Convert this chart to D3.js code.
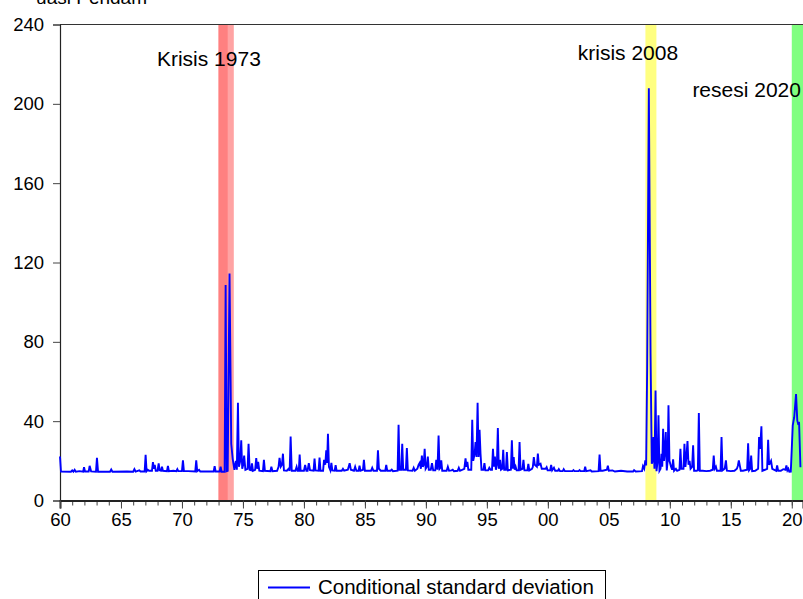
<!DOCTYPE html>
<html>
<head>
<meta charset="utf-8">
<script src="https://cdn.jsdelivr.net/npm/d3@7"></script>
<style>
  body { margin: 0; background: #fff; }
  svg { display: block; font-family: "Liberation Sans", Arial, sans-serif; }
</style>
</head>
<body>
<svg id="chart" width="803" height="599"></svg>
<script>
// conditional standard deviation (decimal year, value)
var s1960s = [[1960.00,22.2],[1960.08,14.6],[1960.9,14.5],[1961.0,15.2],[1961.1,14.5],[1961.2,15.5],[1961.3,14.5],[1961.6,14.8],[1961.9,14.5],[1961.97,16.8],[1962.05,14.6],[1962.35,14.6],[1962.43,17.5],[1962.55,14.7],[1962.95,14.5],[1963.03,21.5],[1963.12,14.5],[1964.1,14.5],[1964.2,15.6],[1964.3,14.5],[1965.5,14.6],[1966.0,14.5],[1966.1,15.8],[1966.2,14.6],[1966.5,15.2],[1966.6,14.6],[1966.94,14.6],[1967.02,23.0],[1967.1,14.8],[1967.2,15.5],[1967.3,15],[1967.54,15],[1967.62,19.4],[1967.7,16],[1967.77,18],[1967.85,15],[1968.0,15],[1968.09,18.7],[1968.17,15.2],[1968.28,15],[1968.36,17],[1968.44,15],[1968.77,14.8],[1968.85,17.4],[1968.93,14.8],[1969.3,15],[1969.54,14.8],[1969.62,15.8],[1969.7,14.8]];
var s1970s = [[1970.0,14.8],[1970.08,20.2],[1970.16,14.8],[1970.5,14.8],[1971.09,14.6],[1971.17,20.2],[1971.25,14.8],[1971.4,15.5],[1971.5,14.6],[1972.6,14.6],[1972.68,17.3],[1972.76,14.6],[1973.09,14.6],[1973.17,17],[1973.25,14.5],[1973.5,14.5],[1973.58,108.6],[1973.67,14.8],[1973.75,15],[1973.9,114.5],[1974.04,28.6],[1974.16,21],[1974.3,15.5],[1974.42,20],[1974.5,15.5],[1974.59,49.3],[1974.67,17],[1974.78,20],[1974.86,30.3],[1974.94,16],[1975.02,18],[1975.1,22.7],[1975.2,15.5],[1975.38,16],[1975.46,28.6],[1975.55,15.5],[1975.66,15.3],[1975.74,18.7],[1975.82,15],[1976.0,15.5],[1976.09,21.4],[1976.17,16],[1976.25,19.5],[1976.34,15],[1976.64,14.8],[1976.72,20.5],[1976.8,15],[1977.25,14.8],[1977.33,17],[1977.42,14.8],[1977.8,15],[1977.92,17],[1978.0,21.5],[1978.1,17],[1978.2,18],[1978.28,23.6],[1978.36,15.2],[1978.6,15],[1978.75,16],[1978.83,15],[1978.91,32.3],[1979.0,15],[1979.3,15],[1979.4,17],[1979.48,15],[1979.58,15],[1979.65,23.2],[1979.73,15]];
var s1980s = [[1980.0,15],[1980.1,17.9],[1980.2,15],[1980.3,15],[1980.4,18.8],[1980.5,15.3],[1980.79,15],[1980.87,21.2],[1980.95,15.2],[1981.2,15],[1981.28,21.6],[1981.36,15],[1981.57,15],[1981.65,20.5],[1981.75,18],[1981.83,25.3],[1981.9,19],[1981.97,33.7],[1982.05,17],[1982.17,15.2],[1982.25,19],[1982.33,15.2],[1982.52,15],[1982.6,17.8],[1982.68,15],[1983.1,15],[1983.2,16],[1983.3,15],[1983.6,15.5],[1983.75,18.8],[1983.85,15.5],[1984.1,15],[1984.2,17],[1984.3,15],[1984.48,15],[1984.56,17.5],[1984.64,15],[1984.84,15.5],[1984.92,20.5],[1985.0,15],[1985.5,15],[1985.6,16.5],[1985.7,15],[1985.99,15],[1986.07,25.3],[1986.15,16],[1986.3,15],[1986.67,15],[1986.75,17.9],[1986.83,15],[1987.1,15],[1987.2,15.6],[1987.3,14.8],[1987.68,15],[1987.76,38.2],[1987.84,15.5],[1987.98,15.5],[1988.06,28.6],[1988.14,15.5],[1988.36,15.5],[1988.44,26.4],[1988.52,15.2],[1988.9,15],[1989.0,16.5],[1989.1,15],[1989.3,16],[1989.4,17.9],[1989.5,19],[1989.59,16],[1989.67,22.7],[1989.75,17],[1989.82,18],[1989.9,26.1],[1989.98,16]];
var s1990s = [[1990.08,17],[1990.16,22.2],[1990.24,15.5],[1990.4,15.5],[1990.5,18.8],[1990.6,15.2],[1990.77,15.2],[1990.85,20.5],[1990.95,15.5],[1991.04,32.8],[1991.12,16],[1991.18,16.5],[1991.26,20.2],[1991.34,15],[1991.7,15],[1991.8,17],[1991.9,15],[1992.1,15.2],[1992.2,15.5],[1992.3,14.8],[1992.6,15],[1992.7,16.5],[1992.8,15],[1993.15,16],[1993.25,21.2],[1993.33,17],[1993.4,19.5],[1993.48,15.5],[1993.72,15.5],[1993.8,40.7],[1993.88,20],[1994.0,23.6],[1994.07,29.5],[1994.15,22],[1994.24,49.3],[1994.32,22],[1994.4,35.7],[1994.48,23.6],[1994.56,15.5],[1994.72,15.5],[1994.8,18.8],[1994.88,15.2],[1995.1,15.2],[1995.2,16.5],[1995.3,15.5],[1995.42,15.5],[1995.5,26.1],[1995.58,17],[1995.66,22.2],[1995.74,15.5],[1995.82,18],[1995.9,36.5],[1995.98,16],[1996.08,20.5],[1996.16,15.5],[1996.26,16],[1996.34,25.6],[1996.42,15.5],[1996.56,15.5],[1996.64,24.4],[1996.72,15.2],[1996.97,15.5],[1997.05,30.3],[1997.13,16],[1997.2,21.9],[1997.28,15.5],[1997.36,17],[1997.44,15.2],[1997.6,15.2],[1997.68,29.5],[1997.76,15.5],[1997.92,16],[1998.0,20.5],[1998.08,15.2],[1998.32,15.2],[1998.4,18.5],[1998.48,15.2],[1998.7,16],[1998.77,17],[1998.85,21.9],[1998.93,18],[1999.1,17],[1999.18,23.6],[1999.26,18],[1999.4,18.5],[1999.5,16],[1999.82,16],[1999.9,16.8],[1999.98,15.2]];
var s2000s = [[2000.19,15.2],[2000.27,17.9],[2000.35,15.2],[2000.5,16.5],[2000.6,15],[2000.82,15],[2000.9,15.8],[2001.0,14.8],[2001.22,14.8],[2001.3,15.8],[2001.4,14.8],[2002.02,14.8],[2002.1,15.3],[2002.18,14.8],[2002.52,14.8],[2002.6,15.3],[2002.68,14.8],[2002.98,14.8],[2003.06,17],[2003.14,14.8],[2003.5,15.2],[2003.6,14.6],[2004.16,14.8],[2004.24,23.2],[2004.32,15],[2004.5,15],[2004.84,15.5],[2004.92,17.6],[2005.0,15],[2005.3,15.2],[2005.5,14.6],[2006.0,15],[2006.5,14.6],[2006.99,14.6],[2007.07,15.3],[2007.2,14.6],[2007.72,14.8],[2007.8,17.3],[2007.9,16],[2007.99,20.2],[2008.06,17.7],[2008.14,65.6],[2008.28,207.9],[2008.42,74.1],[2008.52,18.5],[2008.6,20],[2008.66,32],[2008.74,16],[2008.83,55.5],[2008.91,14.8],[2009.0,20],[2009.07,43],[2009.15,15],[2009.24,16],[2009.32,23.6],[2009.38,17],[2009.45,36.2],[2009.53,20],[2009.6,25],[2009.67,34.5],[2009.75,15.2],[2009.82,20],[2009.89,48],[2009.97,20]];
var s2010s = [[2010.1,17],[2010.19,15.5],[2010.27,20.7],[2010.35,15],[2010.5,16],[2010.6,15],[2010.79,15.5],[2010.87,26.1],[2010.95,16],[2011.12,16],[2011.2,28.6],[2011.28,17],[2011.36,22],[2011.45,30],[2011.53,18],[2011.62,20],[2011.7,16],[2011.83,17],[2011.91,27.8],[2011.99,15],[2012.2,15],[2012.3,15.2],[2012.38,44.1],[2012.46,15],[2012.7,15],[2013.0,14.8],[2013.3,15],[2013.52,15.5],[2013.6,22.7],[2013.68,16],[2013.78,17],[2013.86,15],[2014.16,15],[2014.24,32],[2014.32,15.2],[2014.5,16],[2014.6,20.2],[2014.68,15],[2015.0,14.8],[2015.3,15],[2015.5,16],[2015.58,17.5],[2015.66,20.2],[2015.74,17.6],[2015.82,15],[2016.0,15],[2016.34,15.5],[2016.42,28.9],[2016.5,15.2],[2016.6,16],[2016.67,22.7],[2016.75,14.8],[2017.0,15],[2017.24,16],[2017.32,32],[2017.4,26],[2017.51,37.4],[2017.59,15],[2017.8,15.5],[2017.98,16],[2018.06,30.6],[2018.14,18],[2018.3,20],[2018.4,16],[2018.72,15],[2018.8,17.7],[2018.88,15],[2019.1,15],[2019.3,15.8],[2019.48,15.5],[2019.56,17.7],[2019.64,15.2],[2019.72,16],[2019.8,14.5],[2019.92,14.6]];
var s2020s = [[2020.08,37.9],[2020.2,42],[2020.35,53.7],[2020.45,40.4],[2020.52,38.7],[2020.6,39],[2020.71,16.8]];

var series = [].concat(s1960s, s1970s, s1980s, s1990s, s2000s, s2010s, s2020s);

// shaded periods
var bandStart = [1973.0, 1973.0, 2008.0, 2020.0];
var bandEnd   = [1974.25, 1973.75, 2008.9, 2020.92];
var bandColor = ["#ffa3a3", "#ff8080", "#ffff80", "#80ff80"];

var noteText = ["Krisis 1973", "krisis 2008", "resesi 2020"];
var noteYear = [1967.95, 2002.45, 2011.85];
var noteVal  = [219, 222, 203.5];

var yTicks = [0, 40, 80, 120, 160, 200, 240];
var majorYears = d3.range(1960, 2021, 5);
var minorYears = d3.range(1960, 2021, 1);

var svg = d3.select("#chart");

var x = d3.scaleLinear().domain([1960, 2020.92]).range([60, 803]);
var y = d3.scaleLinear().domain([0, 240]).range([500.5, 24.5]);

// partially visible title at the very top
svg.append("text")
    .attr("x", 147).attr("y", 4)
    .attr("text-anchor", "end")
    .style("font-size", "19px")
    .text("uasi Pendam");

// bands
svg.selectAll("rect.band")
    .data(bandStart)
    .enter().append("rect")
    .attr("class", "band")
    .attr("x", function (d) { return x(d); })
    .attr("width", function (d, i) { return x(bandEnd[i]) - x(d); })
    .attr("y", y(240))
    .attr("height", y(0) - y(240))
    .attr("fill", function (d, i) { return bandColor[i]; });

// frame
svg.append("line").attr("x1", 60).attr("x2", 803).attr("y1", y(240)).attr("y2", y(240))
    .attr("stroke", "#333").attr("stroke-width", 1);

// y axis
var yAxis = svg.append("g")
    .attr("transform", "translate(60,0)")
    .call(d3.axisLeft(y).tickValues(yTicks).tickSize(7).tickPadding(9));
yAxis.select(".domain").attr("stroke", "#222").attr("stroke-width", 1.2);
yAxis.selectAll(".tick line").attr("stroke", "#444");
yAxis.selectAll("text").style("font-size", "18.5px").attr("fill", "#000").attr("font-family", null);

// x axis: minor ticks every year, labelled ticks every five
var xMinor = svg.append("g")
    .attr("transform", "translate(0," + y(0) + ")")
    .call(d3.axisBottom(x).tickValues(minorYears).tickSize(5).tickFormat(""));
xMinor.select(".domain").remove();
xMinor.selectAll(".tick line").attr("stroke", "#444");

var xAxis = svg.append("g")
    .attr("transform", "translate(0," + y(0) + ")")
    .call(d3.axisBottom(x).tickValues(majorYears).tickSize(8).tickPadding(4)
        .tickFormat(function (d) { return String(d % 100).padStart(2, "0"); }));
xAxis.select(".domain").attr("stroke", "#222").attr("stroke-width", 2);
xAxis.selectAll(".tick line").attr("stroke", "#444");
xAxis.selectAll("text").style("font-size", "18.5px").attr("fill", "#000").attr("font-family", null);

// series line
var line = d3.line()
    .x(function (d) { return x(d[0]); })
    .y(function (d) { return y(d[1]); });

svg.append("path")
    .datum(series)
    .attr("d", line)
    .attr("fill", "none")
    .attr("stroke", "#0000ff")
    .attr("stroke-width", 1.9);

// annotations
svg.selectAll("text.note")
    .data(noteText)
    .enter().append("text")
    .attr("class", "note")
    .attr("x", function (d, i) { return x(noteYear[i]); })
    .attr("y", function (d, i) { return y(noteVal[i]); })
    .style("font-size", "21px")
    .text(function (d) { return d; });

// legend
var lg = svg.append("g").attr("transform", "translate(258,570)");
lg.append("rect").attr("x", 0.5).attr("y", 0.5).attr("width", 347).attr("height", 40)
    .attr("fill", "#fff").attr("stroke", "#000");
lg.append("line").attr("x1", 10).attr("x2", 52).attr("y1", 17.5).attr("y2", 17.5)
    .attr("stroke", "#0000ff").attr("stroke-width", 1.9);
lg.append("text").attr("x", 60).attr("y", 24)
    .style("font-size", "20.5px")
    .text("Conditional standard deviation");
</script>
</body>
</html>
